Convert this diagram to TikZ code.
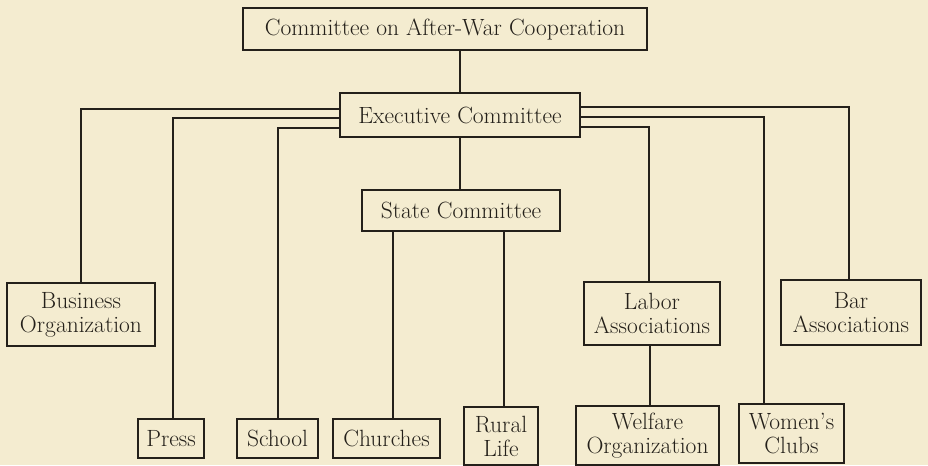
\documentclass[tikz,border=0pt]{standalone}
\usepackage{tikz}
\usetikzlibrary{positioning,calc}
\definecolor{paper}{RGB}{244,236,208}
\definecolor{ink}{RGB}{36,32,26}
\tikzset{
    unit/.style={
        rectangle,
        draw=ink,
        line width=1.8pt,
        fill=paper,
        text=ink,
        align=center,
        inner sep=0pt,
        font=\fontsize{23.5}{24}\selectfont,
    },
    wire/.style={
        draw=ink,
        line width=1.5pt,
    },
    x=1pt,
    y=-1pt,
}

\begin{document}
\begin{tikzpicture}
                \fill[paper] (0,0) rectangle (928,465);

                \node [unit, minimum width=404pt, minimum height=42pt] (coop) at (445,29) {Committee on After-War Cooperation};
                \node [unit, minimum width=240pt, minimum height=44pt] (exec) at (460,115) {Executive Committee};
                \node [unit, minimum width=198pt, minimum height=41pt] (state) at (461,210.5) {State Committee};

                \node [unit, minimum width=148pt, minimum height=63pt] (business) at (81,314.5) {Business\\Organization};
                \node [unit, minimum width=136pt, minimum height=63pt] (labor) at (652,313.5) {Labor\\Associations};
                \node [unit, minimum width=140pt, minimum height=65pt] (bar) at (851,312.5) {Bar\\Associations};

                \node [unit, minimum width=66pt, minimum height=39pt] (press) at (171,438.5) {Press};
                \node [unit, minimum width=81pt, minimum height=39pt] (school) at (277.5,438.5) {School};
                \node [unit, minimum width=107pt, minimum height=39pt] (churches) at (386.5,438.5) {Churches};
                \node [unit, minimum width=74pt, minimum height=58pt] (rural) at (501,436) {Rural\\Life};
                \node [unit, minimum width=143pt, minimum height=59pt] (welfare) at (647.5,435.5) {Welfare\\Organization};
                \node [unit, minimum width=105pt, minimum height=59pt] (women) at (791.5,433.5) {Women's\\Clubs};

                \draw[wire] (exec.north) -- (exec.north |- coop.south);
                \draw[wire] (exec.south) -- (exec.south |- state.north);

                \draw[wire] ([yshift=6pt]exec.west) -| (business.north);
                \draw[wire] ([yshift=-3pt]exec.west) -| ([xshift=2pt]press.north);
                \draw[wire] ([yshift=-13pt]exec.west) -| ([xshift=0.5pt]school.north);

                \draw[wire] ([yshift=8pt]exec.east) -| ([xshift=-2pt]bar.north);
                \draw[wire] ([yshift=-2pt]exec.east) -| ([xshift=-27.5pt]women.north);
                \draw[wire] ([yshift=-12pt]exec.east) -| ([xshift=-3pt]labor.north);

                \draw[wire] ([xshift=6.5pt]churches.north) -- ([xshift=6.5pt]churches.north |- state.south);
                \draw[wire] ([xshift=3pt]rural.north) -- ([xshift=3pt]rural.north |- state.south);
                \draw[wire] ([xshift=-2pt]labor.south) -- ([xshift=-2pt]labor.south |- welfare.north);

            \end{tikzpicture}
\end{document}
